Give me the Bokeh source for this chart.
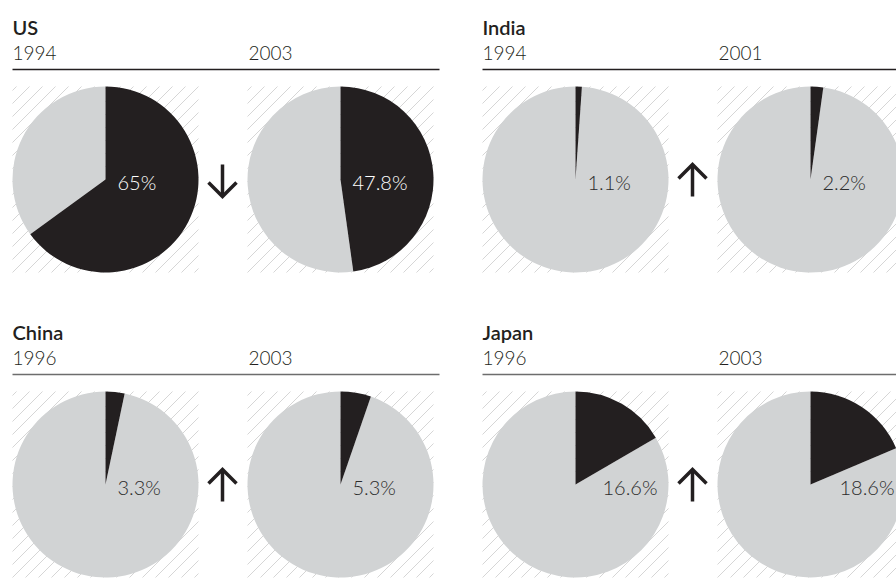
import math
from bokeh.plotting import figure
from bokeh.models import Range1d
from bokeh.core.properties import value
from bokeh.embed import file_html
from bokeh.resources import INLINE

# ---- data ----
countries = ["US", "India", "China", "Japan"]
years_before = ["1994", "1994", "1996", "1996"]
years_after = ["2003", "2001", "2003", "2003"]
share_before = [65, 1.1, 3.3, 16.6]
share_after = [47.8, 2.2, 5.3, 18.6]

# ---- layout / style ----
W, H = 896, 578
DARK = "#231f20"
LIGHT = "#d1d3d4"
HATCH = "#d6d6d6"
FONT_LIGHT = value("Lato Light")
FONT_TITLE = value("Lato Semibold")
R = 93
HATCH_STEP = 13
panel_x = [12, 482, 12, 482]
panel_y = [0, 0, 305, 305]
rule_color = [DARK, DARK, "#6d6d6d", "#6d6d6d"]
label_dx = [[12, 12], [12, 12], [12, 12], [27, 29]]


def Y(y):
    return H - y


p = figure(width=W, height=H, x_range=Range1d(0, W), y_range=Range1d(0, H),
           output_backend="svg", toolbar_location=None, min_border=0,
           x_axis_location=None, y_axis_location=None)
p.grid.visible = False
p.outline_line_color = None


def hatch_box(cx, cyd, half):
    L, B, S = cx - half, cyd - half, 2 * half
    xs0, ys0, xs1, ys1 = [], [], [], []
    t = -S + 4
    while t < S:
        u0, u1 = max(0, -t), min(S, S - t)
        xs0.append(L + u0)
        ys0.append(B + u0 + t)
        xs1.append(L + u1)
        ys1.append(B + u1 + t)
        t += HATCH_STEP
    p.segment(x0=xs0, y0=ys0, x1=xs1, y1=ys1, line_color=HATCH, line_width=1)


for i, c in enumerate(countries):
    x0 = panel_x[i]
    y0 = panel_y[i]
    cy = y0 + 179
    centers = [x0 + 93, x0 + 328]
    vals = [share_before[i], share_after[i]]

    # title and years
    p.text(x=[x0], y=[Y(y0 + 26)], text=[c], text_font=FONT_TITLE,
           text_font_size="20px", text_color=DARK,
           text_baseline="alphabetic", text_align="left")
    p.text(x=[x0, x0 + 236], y=[Y(y0 + 52)] * 2,
           text=[years_before[i], years_after[i]], text_font=FONT_LIGHT,
           text_font_size="19px", text_color=DARK,
           text_baseline="alphabetic", text_align="left")
    # rule
    p.segment(x0=[x0], y0=[Y(y0 + 69)], x1=[x0 + 427], y1=[Y(y0 + 69)],
              line_color=rule_color[i], line_width=1.5)

    for k, (cx, v) in enumerate(zip(centers, vals)):
        hatch_box(cx, Y(cy), R)
        frac = v / 100.0
        a0 = math.pi / 2
        a1 = math.pi / 2 - 2 * math.pi * frac
        p.wedge(x=[cx], y=[Y(cy)], radius=R, start_angle=a1,
                end_angle=a0 - 2 * math.pi, direction="clock",
                fill_color=LIGHT, line_color=None)
        p.wedge(x=[cx], y=[Y(cy)], radius=R, start_angle=a0, end_angle=a1,
                direction="clock", fill_color=DARK, line_color=None)
        p.text(x=[cx + label_dx[i][k]], y=[Y(cy + 2)], text=[f"{v:g}%"],
               text_font=FONT_LIGHT, text_font_size="20px",
               text_color="white" if v > 40 else "#2b2b2b",
               text_baseline="alphabetic", text_align="left")

    # arrow
    ax = x0 + 210
    down = share_after[i] < share_before[i]
    top, bot = cy + 1 - 16, cy + 1 + 16
    tip = bot if down else top
    d = -14 if down else 14
    p.segment(x0=[ax], y0=[Y(top)], x1=[ax], y1=[Y(bot)], line_color=DARK,
              line_width=3.5)
    p.line(x=[ax - 14, ax, ax + 14], y=[Y(tip + d), Y(tip), Y(tip + d)],
           line_color=DARK, line_width=3.5, line_join="miter")

open("out.html", "w").write(file_html(p, INLINE))
